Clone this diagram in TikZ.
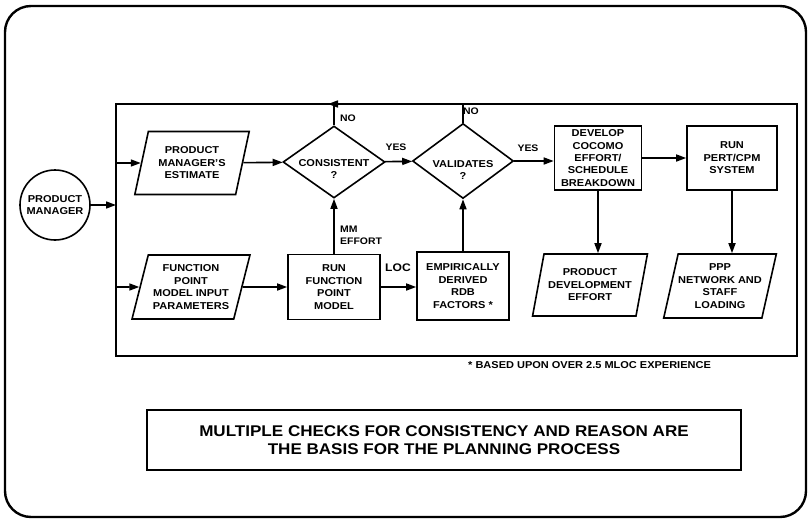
\documentclass[tikz,border=0pt]{standalone}
\usepackage{fontspec}
\setmainfont{Liberation Sans}[FakeStretch=1.1]
\usetikzlibrary{positioning,arrows.meta,shapes.geometric}
\tikzset{
  boxtxt/.style={font=\bfseries\fontsize{10}{12.5}\selectfont, align=center},
  proc/.style={boxtxt, draw, line width=1.6pt, inner sep=0pt},
  io/.style={boxtxt, draw, line width=1.6pt, trapezium, trapezium left angle=72,
    trapezium right angle=108, trapezium stretches=true, inner sep=0pt},
  decision/.style={draw, line width=1.6pt, diamond, inner sep=0pt},
  tag/.style={font=\bfseries\fontsize{9.5}{12}\selectfont, align=left, inner sep=0pt},
  flow/.style={line width=1.6pt, -{Triangle[length=10pt,width=7pt]}},
}

\begin{document}
\begin{tikzpicture}[x=1pt,y=-1pt]
\useasboundingbox (0,0) rectangle (808,519);
\draw[line width=2.4pt, rounded corners=26pt] (5,6) rectangle (806,517);
\draw[line width=1.8pt] (116,104) rectangle (797,356);

% inputs
\node[proc, circle, minimum size=70pt] (pm) at (55,205) {PRODUCT\\MANAGER};
\coordinate (split) at (116,205);
\coordinate (splitA) at (116,163);
\coordinate (splitB) at (116,287);
\node[io, minimum width=115pt, minimum height=63pt] (est) at (192,163) {PRODUCT\\MANAGER'S\\ESTIMATE};
\node[io, minimum width=118pt, minimum height=64pt] (fpin) at (191,287) {FUNCTION\\POINT\\MODEL INPUT\\PARAMETERS};

% checks
\node[decision, minimum width=102pt, minimum height=72pt] (cons) at (334,162) {};
\node[boxtxt] (consq) at (334,169) {CONSISTENT\\?};
\node[decision, minimum width=101pt, minimum height=75pt] (val) at (463,161) {};
\node[boxtxt] (valq) at (463,170) {VALIDATES\\?};
\node[proc, minimum width=92pt, minimum height=65pt] (runfp) at (334,287) {RUN\\FUNCTION\\POINT\\MODEL};
\node[proc, minimum width=92pt, minimum height=68pt] (emp) at (463,286) {EMPIRICALLY\\DERIVED\\RDB\\FACTORS *};

% outputs
\node[proc, minimum width=87pt, minimum height=64pt, font=\bfseries\fontsize{10}{12.4}\selectfont] (dev) at (598,158) {DEVELOP\\COCOMO\\EFFORT/\\SCHEDULE\\BREAKDOWN};
\node[proc, minimum width=90pt, minimum height=64pt] (pert) at (732,158) {RUN\\PERT/CPM\\SYSTEM};
\node[io, minimum width=115pt, minimum height=62pt] (eff) at (590,285) {PRODUCT\\DEVELOPMENT\\EFFORT};
\node[io, minimum width=108pt, minimum height=64pt] (ppp) at (720,286) {PPP\\NETWORK AND\\STAFF\\LOADING};

\draw[flow] (pm) -- (split);
\draw[flow] (splitA) -- (est);
\draw[flow] (splitB) -- (fpin);
\draw[flow] (est) -- (cons);
\draw[flow] (fpin) -- (runfp);
\draw[flow] (runfp) -- (cons);
\draw[flow] (runfp.east) -- (runfp.east -| emp.west);
\draw[flow] (emp) -- (val);
\draw[flow] (cons) -- (val);
\draw[flow] (val.east) -- (val.east -| dev.west);
\draw[flow] (dev) -- (pert);
\draw[flow] (dev.south) -- (dev.south |- eff.north);
\draw[flow] (pert.south) -- (pert.south |- ppp.north);

% loops back along the top edge
\coordinate (noA) at (334,104);
\coordinate (noB) at (463,104);
\draw[line width=1.6pt] (cons.north) -- (noA);
\draw[line width=1.6pt] (val.north) -- (noB);
\draw[flow] (noB) -- ([xshift=-6pt]noA);

\node[tag] (noAl) at (348,118) {NO};
\node[tag] (noBl) at (471,111) {NO};
\node[tag] (yesA) at (396,147) {YES};
\node[tag] (yesB) at (528,148) {YES};
\node[tag, anchor=west] (mm) at (340,235) {MM\\EFFORT};
\node[font=\bfseries\fontsize{11}{13}\selectfont, inner sep=0pt] (loc) at (398,268) {LOC};
\node[tag, anchor=west, font=\bfseries\fontsize{10}{12}\selectfont] (note) at (468,365) {* BASED UPON OVER 2.5 MLOC EXPERIENCE};

\node[draw, line width=1.8pt, minimum width=594pt, minimum height=60pt, align=center,
  font=\bfseries\fontsize{15.5}{18}\selectfont] (msg) at (444,440)
  {MULTIPLE CHECKS FOR CONSISTENCY AND REASON ARE\\THE BASIS FOR THE PLANNING PROCESS};
\end{tikzpicture}
\end{document}
